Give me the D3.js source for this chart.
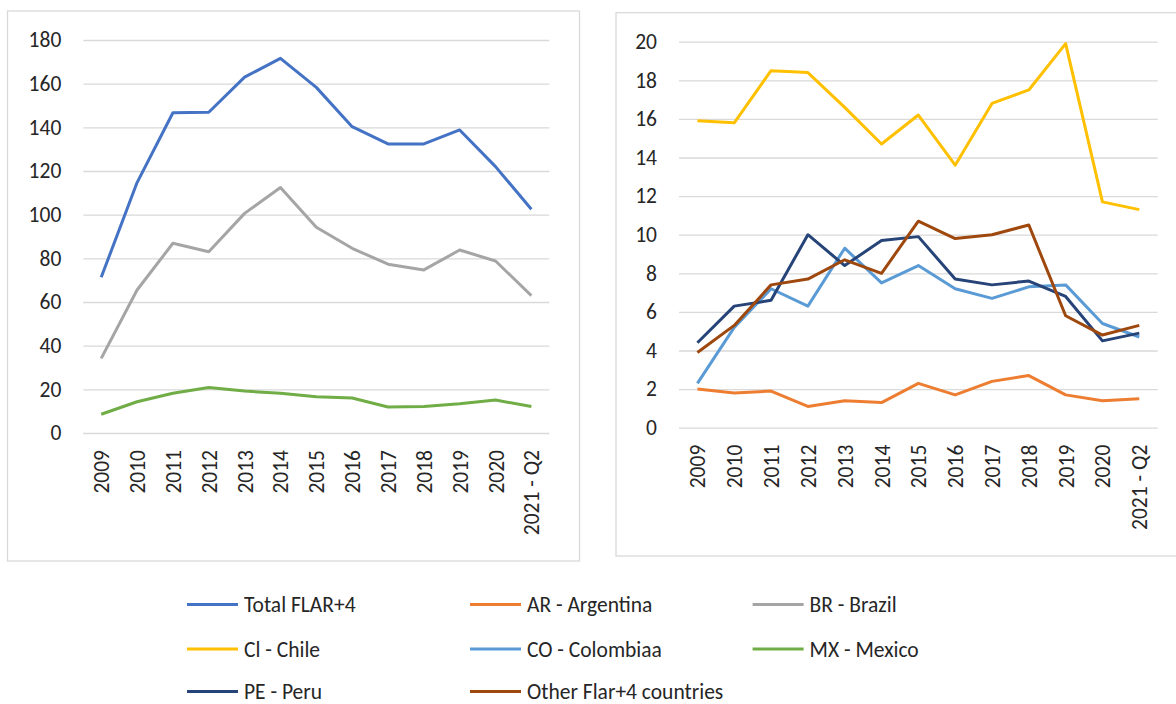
<!DOCTYPE html>
<html>
<head>
<meta charset="utf-8">
<script src="https://cdn.jsdelivr.net/npm/d3@7"></script>
<style>
  body { margin: 0; background: #fff; }
  svg { display: block; }
  text { font-family: Carlito, Lato, sans-serif; fill: #262626; }
</style>
</head>
<body>
<div id="chart"></div>
<script>
// categories
var years = ['2009', '2010', '2011', '2012', '2013', '2014', '2015', '2016', '2017', '2018', '2019', '2020', '2021 - Q2'];

// left panel series
var totalFlar = [71.3, 114.7, 146.7, 146.9, 163, 171.6, 158.3, 140.3, 132.4, 132.4, 138.8, 122, 102.5];
var brazil = [34.2, 65.5, 86.9, 83, 100.6, 112.4, 94.2, 84.6, 77.3, 74.7, 83.8, 78.8, 62.9];
var mexico = [8.6, 14.3, 18.2, 20.8, 19.2, 18.2, 16.6, 16.0, 11.9, 12.1, 13.4, 15.1, 12.1];

// right panel series
var chile = [15.9, 15.8, 18.5, 18.4, 16.6, 14.7, 16.2, 13.6, 16.8, 17.5, 19.9, 11.7, 11.3];
var argentina = [2.0, 1.8, 1.9, 1.1, 1.4, 1.3, 2.3, 1.7, 2.4, 2.7, 1.7, 1.4, 1.5];
var colombia = [2.3, 5.2, 7.2, 6.3, 9.3, 7.5, 8.4, 7.2, 6.7, 7.3, 7.4, 5.4, 4.7];
var peru = [4.4, 6.3, 6.6, 10.0, 8.4, 9.7, 9.9, 7.7, 7.4, 7.6, 6.8, 4.5, 4.9];
var other = [3.9, 5.3, 7.4, 7.7, 8.7, 8.0, 10.7, 9.8, 10.0, 10.5, 5.8, 4.8, 5.3];

var leftTicks = [0, 20, 40, 60, 80, 100, 120, 140, 160, 180];
var rightTicks = [0, 2, 4, 6, 8, 10, 12, 14, 16, 18, 20];

var legendNames = ['Total FLAR+4', 'AR - Argentina', 'BR - Brazil', 'Cl - Chile', 'CO - Colombiaa', 'MX - Mexico', 'PE - Peru', 'Other Flar+4 countries'];

var colors = {
  total: '#4472C4', ar: '#ED7D31', br: '#A5A5A5', cl: '#FFC000',
  co: '#5B9BD5', mx: '#70AD47', pe: '#264478', other: '#9E480E'
};
var legendColors = [colors.total, colors.ar, colors.br, colors.cl, colors.co, colors.mx, colors.pe, colors.other];

var W = 1176, H = 704;
var tickFont = '21.5px';
var svg = d3.select('#chart').append('svg').attr('width', W).attr('height', H);

function panel(opts) {
  var g = svg.append('g');
  // frame
  g.append('rect')
    .attr('x', opts.box[0]).attr('y', opts.box[1])
    .attr('width', opts.box[2] - opts.box[0]).attr('height', opts.box[3] - opts.box[1])
    .attr('fill', 'none').attr('stroke', '#d9d9d9').attr('stroke-width', 1.3);

  var x = d3.scalePoint().domain(years).range([opts.x0, opts.x1]).padding(0.5);
  var y = d3.scaleLinear().domain([0, opts.max]).range([opts.y0, opts.y1]);

  var yAxis = g.append('g')
    .attr('transform', 'translate(' + opts.x0 + ',0)')
    .call(d3.axisLeft(y).tickValues(opts.ticks).tickSize(-(opts.x1 - opts.x0)).tickPadding(22));
  yAxis.select('.domain').remove();
  yAxis.selectAll('line').attr('stroke', '#d9d9d9').attr('stroke-width', 1.3);
  yAxis.selectAll('text').attr('font-size', tickFont).attr('font-family', 'Carlito, Lato, sans-serif').attr('fill', '#262626');

  var xAxis = g.append('g')
    .attr('transform', 'translate(0,' + opts.y0 + ')')
    .call(d3.axisBottom(x).tickSize(0).tickPadding(0));
  xAxis.select('.domain').remove();
  xAxis.selectAll('text')
    .attr('font-size', tickFont).attr('font-family', 'Carlito, Lato, sans-serif').attr('fill', '#262626')
    .attr('text-anchor', 'end')
    .attr('transform', 'translate(0,17) rotate(-90)')
    .attr('x', 0).attr('y', 0).attr('dy', '0.35em');

  var line = d3.line()
    .x(function(d, i) { return x(years[i]); })
    .y(function(d) { return y(d); });

  opts.series.forEach(function(s) {
    g.append('path')
      .datum(s.values)
      .attr('d', line)
      .attr('fill', 'none')
      .attr('stroke', s.color)
      .attr('stroke-width', 3)
      .attr('stroke-linejoin', 'round');
  });
}

panel({
  box: [7.5, 11, 579.5, 561],
  x0: 83.3, x1: 549.3, y0: 433, y1: 40, max: 180, ticks: leftTicks,
  series: [
    {values: totalFlar, color: colors.total},
    {values: brazil, color: colors.br},
    {values: mexico, color: colors.mx}
  ]
});

panel({
  box: [616, 12.7, 1182, 556],
  x0: 679, x1: 1157.7, y0: 427.7, y1: 41.7, max: 20, ticks: rightTicks,
  series: [
    {values: argentina, color: colors.ar},
    {values: chile, color: colors.cl},
    {values: colombia, color: colors.co},
    {values: peru, color: colors.pe},
    {values: other, color: colors.other}
  ]
});

// legend
var colX = [187, 470, 752.6];
var rowY = [604.5, 649, 691.5];
var leg = svg.append('g');
legendNames.forEach(function(name, i) {
  var cx = colX[i % 3], cy = rowY[Math.floor(i / 3)];
  leg.append('line')
    .attr('x1', cx).attr('x2', cx + 51)
    .attr('y1', cy).attr('y2', cy)
    .attr('stroke', legendColors[i]).attr('stroke-width', 3);
  leg.append('text')
    .attr('x', cx + 57).attr('y', cy).attr('dy', '0.35em')
    .attr('font-size', '21.5px')
    .text(name);
});
</script>
</body>
</html>
